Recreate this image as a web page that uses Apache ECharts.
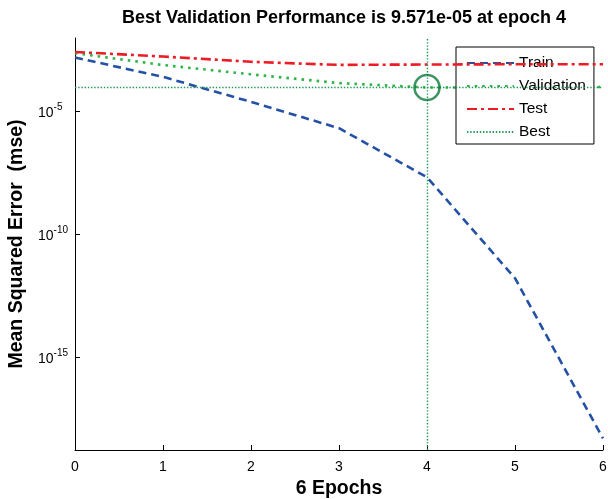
<!DOCTYPE html>
<html>
<head>
<meta charset="utf-8">
<script src="https://cdn.jsdelivr.net/npm/echarts@6/dist/echarts.min.js"></script>
<style>
  html, body { margin: 0; padding: 0; background: #fff; }
  #chart { width: 608px; height: 499px; }
</style>
</head>
<body>
<div id="chart"></div>
<script>
// epochs 0..6, mse
const epochs = [0, 1, 2, 3, 4, 5, 6];
const trainPerf = [1.6e-3, 2.6e-4, 2.5e-5, 2.1e-6, 2.1e-8, 1.6e-12, 4.7e-19];
const valPerf = [2.4e-3, 7.9e-4, 3.3e-4, 1.45e-4, 9.571e-5, 9.8e-5, 1.0e-4];
const testPerf = [2.7e-3, 1.75e-3, 1.07e-3, 8.0e-4, 8.3e-4, 8.5e-4, 8.5e-4];
const bestEpoch = 4;
const bestPerf = 9.571e-5;
const yTicks = [1e-15, 1e-10, 1e-5];

const chart = echarts.init(document.getElementById("chart"));

const toPairs = (vals) => epochs.map((e, i) => [e, vals[i]]);

const font = "Arial, 'Liberation Sans', sans-serif";
const bestColor = "#1f9a55";

const option = {
  animation: false,
  title: {
    text: "Best Validation Performance is 9.571e-05 at epoch 4",
    left: 339,
    top: 4,
    textAlign: "center",
    textStyle: { fontFamily: font, fontSize: 18, fontWeight: "bold", color: "#000" },
  },
  grid: { left: 75, right: 5, top: 38, bottom: 49, outerBoundsMode: "none", containLabel: false },
  legend: {
    data: ["Train", "Validation", "Test", "Best"],
    orient: "vertical",
    left: 456,
    top: 47,
    padding: [8, 8, 4, 10],
    itemWidth: 47,
    itemHeight: 14,
    itemGap: 7,
    backgroundColor: "#fff",
    borderColor: "#000",
    borderWidth: 1,
    borderRadius: 0,
    selectedMode: false,
    itemStyle: { opacity: 0 },
    textStyle: { fontFamily: font, fontSize: 15.5, color: "#000" },
  },
  xAxis: {
    type: "value",
    min: 0,
    max: 6,
    interval: 1,
    name: "6 Epochs",
    nameLocation: "middle",
    nameGap: 29,
    nameTextStyle: { fontFamily: font, fontSize: 19.5, fontWeight: "bold", color: "#000" },
    axisLine: { lineStyle: { color: "#000", width: 1 } },
    axisTick: { inside: true, length: 5, lineStyle: { color: "#000" } },
    axisLabel: { fontFamily: font, fontSize: 14, color: "#000", margin: 10 },
    splitLine: { show: false },
  },
  yAxis: {
    type: "log",
    logBase: 10,
    min: Math.pow(10, -18.8),
    max: 1e-2,
    name: "Mean Squared Error  (mse)",
    nameLocation: "middle",
    nameGap: 43,
    nameTextStyle: { fontFamily: font, fontSize: 19.5, fontWeight: "bold", color: "#000" },
    axisLine: { show: true, lineStyle: { color: "#000", width: 1 } },
    axisTick: {
      inside: true,
      length: 5,
      lineStyle: { color: "#000" },
      customValues: yTicks.concat(yTicks.map((v) => Math.log10(v))),
    },
    axisLabel: {
      customValues: yTicks.concat(yTicks.map((v) => Math.log10(v))),
      align: "left",
      margin: 37,
      formatter: (value) => {
        const e = value > 0 && value < 1 ? Math.round(Math.log10(value)) : Math.round(value);
        return "{b|10}{s|" + e + "}";
      },
      rich: {
        b: { fontFamily: font, fontSize: 14, color: "#000", padding: [4, 0, 0, 0] },
        s: { fontFamily: font, fontSize: 10, color: "#000", padding: [0, 0, 8, 0] },
      },
    },
    splitLine: { show: false },
  },
  series: [
    {
      name: "Train",
      type: "line",
      symbol: "none",
      data: toPairs(trainPerf),
      lineStyle: { color: "#2451a6", width: 2.6, type: [8, 5] },
      itemStyle: { color: "#2451a6" },
      z: 2,
    },
    {
      name: "Validation",
      type: "line",
      symbol: "none",
      data: toPairs(valPerf),
      lineStyle: { color: "#2fb548", width: 2.6, type: [2.6, 5] },
      itemStyle: { color: "#2fb548" },
      z: 3,
    },
    {
      name: "Test",
      type: "line",
      symbol: "none",
      data: toPairs(testPerf),
      lineStyle: { color: "#ec1c24", width: 2.6, type: [10, 4, 3, 4] },
      itemStyle: { color: "#ec1c24" },
      z: 4,
    },
    {
      name: "Best",
      type: "line",
      symbol: "none",
      data: [[epochs[0], bestPerf], [epochs[epochs.length - 1], bestPerf]],
      lineStyle: { color: bestColor, width: 1.4, type: [1.4, 1.8] },
      itemStyle: { color: bestColor },
      z: 5,
      markLine: {
        silent: true,
        symbol: "none",
        label: { show: false },
        lineStyle: { color: bestColor, width: 1.4, type: [1.4, 1.8] },
        data: [{ xAxis: bestEpoch }],
      },
    },
    {
      name: "bestPoint",
      type: "scatter",
      silent: true,
      data: [[bestEpoch, bestPerf]],
      symbol: "circle",
      symbolSize: 25,
      itemStyle: { color: "rgba(0,0,0,0)", borderColor: "#0c7a3c", borderWidth: 2.6 },
      z: 6,
    },
  ],
};

chart.setOption(option);
</script>
</body>
</html>
